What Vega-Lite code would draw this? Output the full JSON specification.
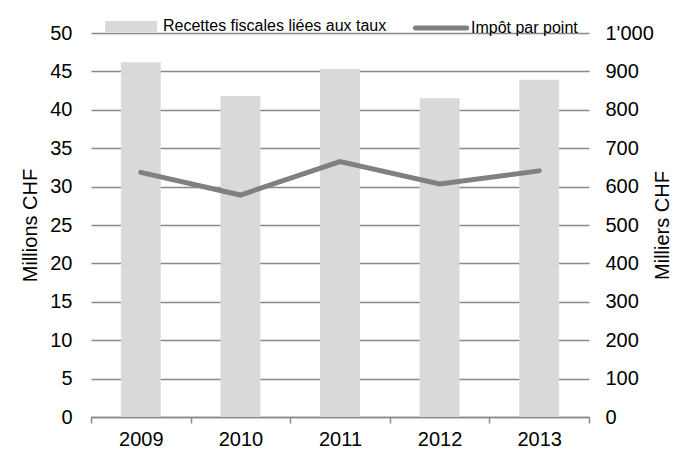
{
  "$schema": "https://vega.github.io/schema/vega-lite/v6.json",
  "width": 498,
  "height": 384,
  "autosize": {"type": "none"},
  "padding": {"left": 91, "top": 33, "right": 86, "bottom": 34},
  "background": "white",
  "config": {
    "view": {"stroke": null},
    "font": "Liberation Sans",
    "axis": {
      "labelFont": "Liberation Sans",
      "titleFont": "Liberation Sans",
      "labelColor": "black",
      "titleColor": "black",
      "labelFontSize": 20,
      "titleFontSize": 20,
      "titleFontWeight": "normal"
    }
  },
  "data": {
    "values": [
      {"year": "2009", "recettes": 46.2, "impot": 637},
      {"year": "2010", "recettes": 41.8, "impot": 578},
      {"year": "2011", "recettes": 45.3, "impot": 665},
      {"year": "2012", "recettes": 41.5, "impot": 607},
      {"year": "2013", "recettes": 43.9, "impot": 641}
    ]
  },
  "encoding": {
    "x": {
      "field": "year",
      "type": "ordinal",
      "scale": {"paddingInner": 0, "paddingOuter": 0},
      "axis": {
        "title": null,
        "labelAngle": 0,
        "tickBand": "extent",
        "domainColor": "#898989",
        "domainWidth": 1.5,
        "tickColor": "#898989",
        "tickWidth": 1.5,
        "tickSize": 6,
        "labelPadding": 6,
        "grid": false
      }
    }
  },
  "layer": [
    {
      "mark": {"type": "bar", "width": {"band": 0.4}},
      "encoding": {
        "y": {
          "field": "recettes",
          "type": "quantitative",
          "scale": {"domain": [0, 50]},
          "axis": {
            "title": "Millions CHF",
            "values": [0, 5, 10, 15, 20, 25, 30, 35, 40, 45, 50],
            "grid": true,
            "gridColor": "#898989",
            "gridWidth": 1.5,
            "domain": false,
            "ticks": false,
            "labelPadding": 19,
            "titlePadding": 9
          }
        },
        "color": {
          "datum": "Recettes fiscales liées aux taux",
          "scale": {
            "domain": ["Recettes fiscales liées aux taux", "Impôt par point"],
            "range": ["#d9d9d9", "#808080"]
          },
          "legend": {
            "title": null,
            "orient": "none",
            "legendX": 14,
            "legendY": -33,
            "direction": "horizontal",
            "labelFont": "Liberation Sans",
            "labelFontSize": 16,
            "labelColor": "black",
            "labelLimit": 500,
            "symbolSize": 2209,
            "symbolStrokeWidth": 5,
            "symbolOffset": 0,
            "labelOffset": 6,
            "columnPadding": 18,
            "encode": {
              "symbols": {
                "update": {
                  "size": {"value": 2209},
                  "strokeWidth": {"value": 5},
                  "shape": {"signal": "datum.value === 'Impôt par point' ? 'M-1,0H1.18' : 'M-1,-0.128H1V0.128H-1Z'"},
                  "fill": {"signal": "datum.value === 'Impôt par point' ? 'transparent' : '#d9d9d9'"},
                  "stroke": {"signal": "datum.value === 'Impôt par point' ? '#808080' : '#d9d9d9'"},
                  "strokeCap": {"value": "round"},
                  "strokeJoin": {"value": "miter"},
                  "opacity": {"value": 1}
                }
              }
            }
          }
        }
      }
    },
    {
      "mark": {"type": "line", "strokeWidth": 5, "strokeCap": "round"},
      "encoding": {
        "y": {
          "field": "impot",
          "type": "quantitative",
          "scale": {"domain": [0, 1000]},
          "axis": {
            "orient": "right",
            "title": "Milliers CHF",
            "titleAngle": 270,
            "values": [0, 100, 200, 300, 400, 500, 600, 700, 800, 900, 1000],
            "labelExpr": "replace(format(datum.value, ','), ',', \"'\")",
            "grid": false,
            "domain": false,
            "ticks": false,
            "labelPadding": 16,
            "titlePadding": 19
          }
        },
        "color": {"datum": "Impôt par point"}
      }
    }
  ],
  "resolve": {"scale": {"y": "independent"}}
}
